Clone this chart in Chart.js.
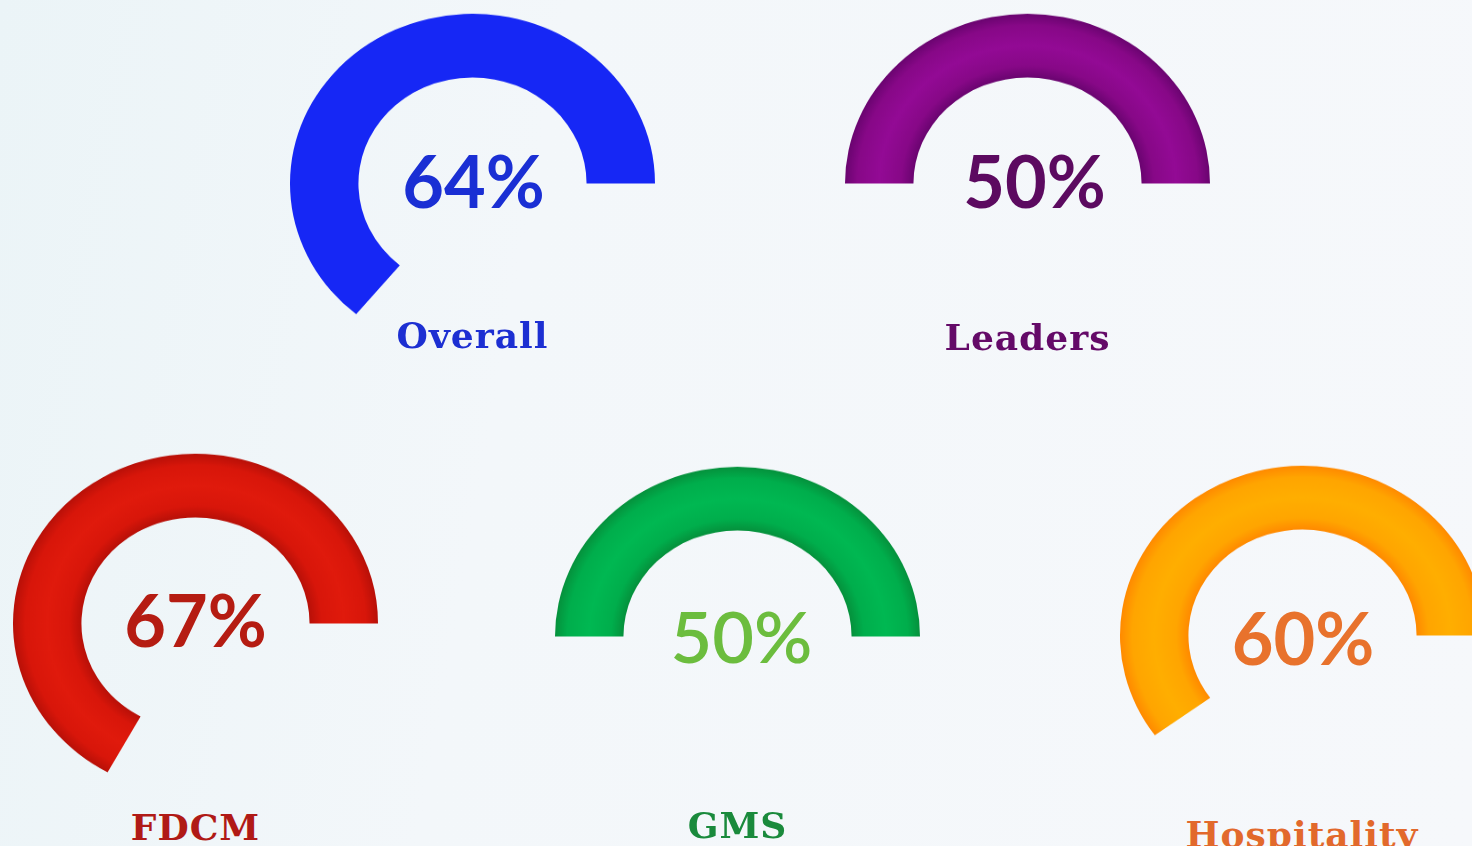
<!DOCTYPE html>
<html>
<head>
<meta charset="utf-8">
<script src="https://cdn.jsdelivr.net/npm/chart.js@4.4.0/dist/chart.umd.min.js"></script>
<style>
  body { margin: 0; }
  #page {
    position: relative;
    width: 1472px;
    height: 846px;
    overflow: hidden;
    background: linear-gradient(100deg, #ebf4f7 0%, #f3f7fa 35%, #f6f8fb 100%);
  }
  .gauge {
    position: absolute;
    width: 365px;
    height: 365px;
    transform: scaleY(0.93);
    transform-origin: 50% 50%;
  }
  .pct {
    position: absolute;
    width: 300px;
    text-align: center;
    font-family: Lato, "Open Sans", sans-serif;
    font-size: 72px;
    line-height: 72px;
    font-weight: 700;
    white-space: nowrap;
  }
  .lbl {
    position: absolute;
    width: 400px;
    text-align: center;
    font-family: "DejaVu Serif", serif;
    font-size: 36px;
    line-height: 36px;
    letter-spacing: 1px;
    font-weight: 700;
    white-space: nowrap;
  }
</style>
</head>
<body>
<div id="page"></div>
<script>
// data
const labels = ["Overall", "Leaders", "FDCM", "GMS", "Hospitality"];
const values = [64, 50, 67, 50, 60];

// looks
const centers = [[472.5, 183], [1027.5, 183], [195.5, 623], [737.5, 636], [1302, 635]];
const pctShift = [1, 7, 0, 4, 1];
const pctBaseline = [208, 208, 647, 663, 665];
const lblBaseline = [348, 350, 840, 838, 847];
const arcBase = ["#1627f5", "#870887", "#d8160a", "#00ae4c", "#ffa500"];
const arcLight = ["#1627f5", "#930a95", "#e01a0c", "#00b852", "#ffae00"];
const arcEdge = ["#1627f5", "#6a0470", "#b81008", "#05913c", "#ff8a00"];
const pctColor = ["#1a2fd4", "#5c0a60", "#b51c12", "#6cbd3e", "#e8722c"];
const pctWeight = [700, 700, 700, 600, 700];
const lblColor = ["#1c2fd2", "#640a68", "#b01a16", "#1a8a3c", "#e2692c"];

const page = document.getElementById("page");

for (let i = 0; i < values.length; i++) {
  const cx = centers[i][0];
  const cy = centers[i][1];

  var box = document.createElement("div");
  box.className = "gauge";
  box.style.left = (cx - 182.5) + "px";
  box.style.top = (cy - 182.5) + "px";
  var cv = document.createElement("canvas");
  cv.width = 365;
  cv.height = 365;
  box.appendChild(cv);
  page.appendChild(box);

  var pct = document.createElement("div");
  pct.className = "pct";
  pct.textContent = values[i] + "%";
  pct.style.color = pctColor[i];
  pct.style.fontWeight = pctWeight[i];
  pct.style.left = (cx + pctShift[i] - 150) + "px";
  pct.style.top = (pctBaseline[i] - 64) + "px";
  page.appendChild(pct);

  var lbl = document.createElement("div");
  lbl.className = "lbl";
  lbl.textContent = labels[i];
  lbl.style.color = lblColor[i];
  lbl.style.left = (cx - 200) + "px";
  lbl.style.top = (lblBaseline[i] - 31) + "px";
  page.appendChild(lbl);

  new Chart(cv, {
    type: "doughnut",
    data: {
      labels: [labels[i], ""],
      datasets: [
        {
          data: [values[i], 100 - values[i]],
          backgroundColor: function (c) {
            if (c.dataIndex === 1) return "rgba(0,0,0,0)";
            const area = c.chart.chartArea;
            if (!area) return arcBase[i];
            const x = (area.left + area.right) / 2;
            const y = (area.top + area.bottom) / 2;
            const R = Math.min(area.width, area.height) / 2;
            const r = R * 0.625;
            const g = c.chart.ctx.createRadialGradient(x, y, r, x, y, R);
            g.addColorStop(0, arcEdge[i]);
            g.addColorStop(0.18, arcBase[i]);
            g.addColorStop(0.5, arcLight[i]);
            g.addColorStop(0.82, arcBase[i]);
            g.addColorStop(1, arcEdge[i]);
            return g;
          },
          borderWidth: 0,
        },
      ],
    },
    options: {
      responsive: false,
      animation: false,
      events: [],
      cutout: "62.5%",
      // first slice ends at 3 o'clock and runs back over the top
      rotation: 90 - values[i] * 3.6,
      plugins: {
        legend: { display: false },
        tooltip: { enabled: false },
      },
    },
  });
}
</script>
</body>
</html>
